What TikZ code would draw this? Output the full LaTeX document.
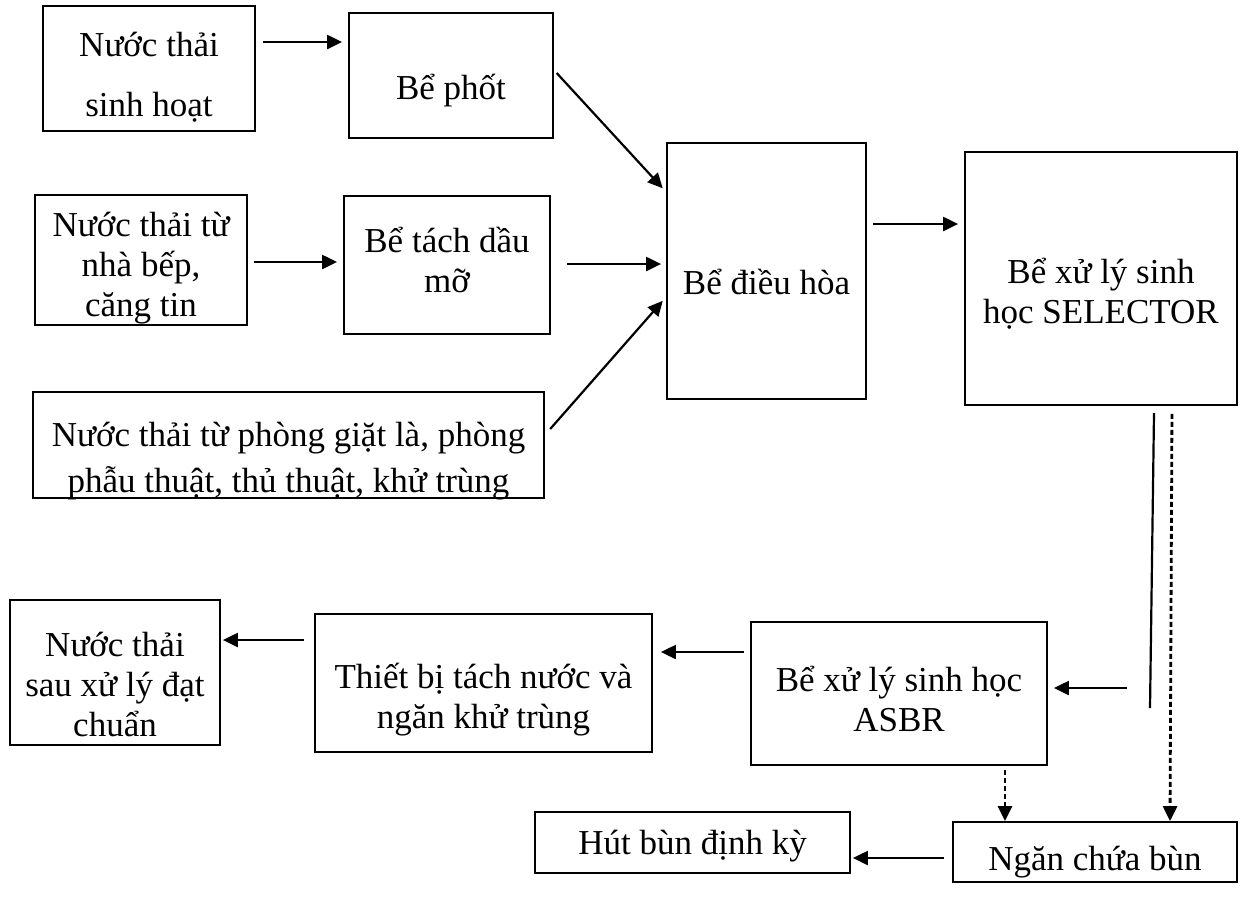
\documentclass[tikz,border=0pt]{standalone}
\usepackage{fontspec}
\setmainfont{Liberation Serif}
\usetikzlibrary{arrows.meta}
\tikzset{
  box/.style={draw, line width=0.9pt, inner sep=0pt},
  txt/.style={align=center, inner sep=0pt, font=\fontsize{17.5}{20}\selectfont},
  arr/.style={-{Triangle[length=7.5pt,width=7pt]}, line width=1.1pt},
  dotarr/.style={arr, dash pattern=on 2.5pt off 1.5pt, line width=1.4pt},
  plain/.style={line width=1.1pt}
}
\begin{document}
\begin{tikzpicture}[x=0.5pt,y=-0.5pt]
\fill[white] (0,0) rectangle (1241,906);
\useasboundingbox (0,0) rectangle (1241,906);

\node[box, minimum width=106pt, minimum height=62.5pt] (b1) at (149,68.5) {};
\node[box, minimum width=102pt, minimum height=62.5pt] (b2) at (451,75.5) {};
\node[box, minimum width=106pt, minimum height=65pt] (b3) at (141,260) {};
\node[box, minimum width=103pt, minimum height=69pt] (b4) at (447,265) {};
\node[box, minimum width=255.5pt, minimum height=53pt] (b5) at (288.5,445) {};
\node[box, minimum width=99.5pt, minimum height=128pt] (b6) at (766.5,271) {};
\node[box, minimum width=136pt, minimum height=126.5pt] (b7) at (1101,278.5) {};
\node[box, minimum width=148pt, minimum height=71.5pt] (b8) at (899,693.5) {};
\node[box, minimum width=168.5pt, minimum height=69pt] (b9) at (483.5,683) {};
\node[box, minimum width=105pt, minimum height=72.5pt] (b10) at (115,672.5) {};
\node[box, minimum width=142pt, minimum height=30pt] (b11) at (1095,852) {};
\node[box, minimum width=157.5pt, minimum height=30.5pt] (b12) at (692.5,842.5) {};

\node[txt, font=\fontsize{17.5}{30}\selectfont] (t1) at ([yshift=-4.5pt]b1.center) {Nước thải\\sinh hoạt};
\node[txt] (t2) at ([yshift=-7.5pt]b2.center) {Bể phốt};
\node[txt] (t3) at ([yshift=-4pt]b3.center) {Nước thải từ\\nhà bếp,\\căng tin};
\node[txt] (t4) at ([yshift=2.5pt]b4.center) {Bể tách dầu\\mỡ};
\node[txt, font=\fontsize{17.5}{23}\selectfont] (t5) at ([yshift=-8pt]b5.center) {Nước thải từ phòng giặt là, phòng\\phẫu thuật, thủ thuật, khử trùng};
\node[txt] (t6) at ([yshift=-5.5pt]b6.center) {Bể điều hòa};
\node[txt] (t7) at ([yshift=-7.5pt]b7.center) {Bể xử lý sinh\\học SELECTOR};
\node[txt] (t8) at ([yshift=-2.5pt]b8.center) {Bể xử lý sinh học\\ASBR};
\node[txt] (t9) at ([yshift=-8.5pt]b9.center) {Thiết bị tách nước và\\ngăn khử trùng};
\node[txt] (t10) at ([yshift=-6pt]b10.center) {Nước thải\\sau xử lý đạt\\chuẩn};
\node[txt] (t11) at ([yshift=-5pt]b11.center) {Ngăn chứa bùn};
\node[txt] (t12) at ([yshift=-2pt]b12.center) {Hút bùn định kỳ};

\draw[arr, shorten <=3.5pt, shorten >=3pt] (b1.east |- 0,42) -- (b2.west |- 0,42);
\draw[arr, shorten <=2pt, shorten >=2.5pt] (b2.east |- 0,70) -- (b6.west |- 0,192);
\draw[arr, shorten <=3pt, shorten >=3pt] (b3.east |- 0,262) -- (b4.west |- 0,262);
\draw[arr, shorten <=8pt, shorten >=2.5pt] (b4.east |- 0,264) -- (b6.west |- 0,264);
\draw[arr, shorten <=4pt, shorten >=2.5pt] (b5.east |- 0,435) -- (b6.west |- 0,297);
\draw[arr, shorten <=3pt, shorten >=3pt] (b6.east |- 0,224) -- (b7.west |- 0,224);

\coordinate (v1) at (1154,413);
\coordinate (v2) at (1150,708);
\draw[plain] (v1) -- (v2);
\coordinate (h1) at (1127,688);
\draw[arr, shorten >=3pt] (h1) -- (b8.east |- h1);
\draw[dotarr, shorten <=4pt] (b7.south -| 1172,0) -- (b11.north -| 1170,0);
\draw[dotarr, shorten <=2pt] (b8.south -| 1005,0) -- (b11.north -| 1005,0);

\draw[arr, shorten <=3pt, shorten >=4pt] (b8.west |- 0,652) -- (b9.east |- 0,652);
\draw[arr, shorten <=5pt, shorten >=1pt] (b9.west |- 0,640) -- (b10.east |- 0,640);
\draw[arr, shorten <=4pt, shorten >=1pt] (b11.west |- 0,858) -- (b12.east |- 0,858);
\end{tikzpicture}
\end{document}
